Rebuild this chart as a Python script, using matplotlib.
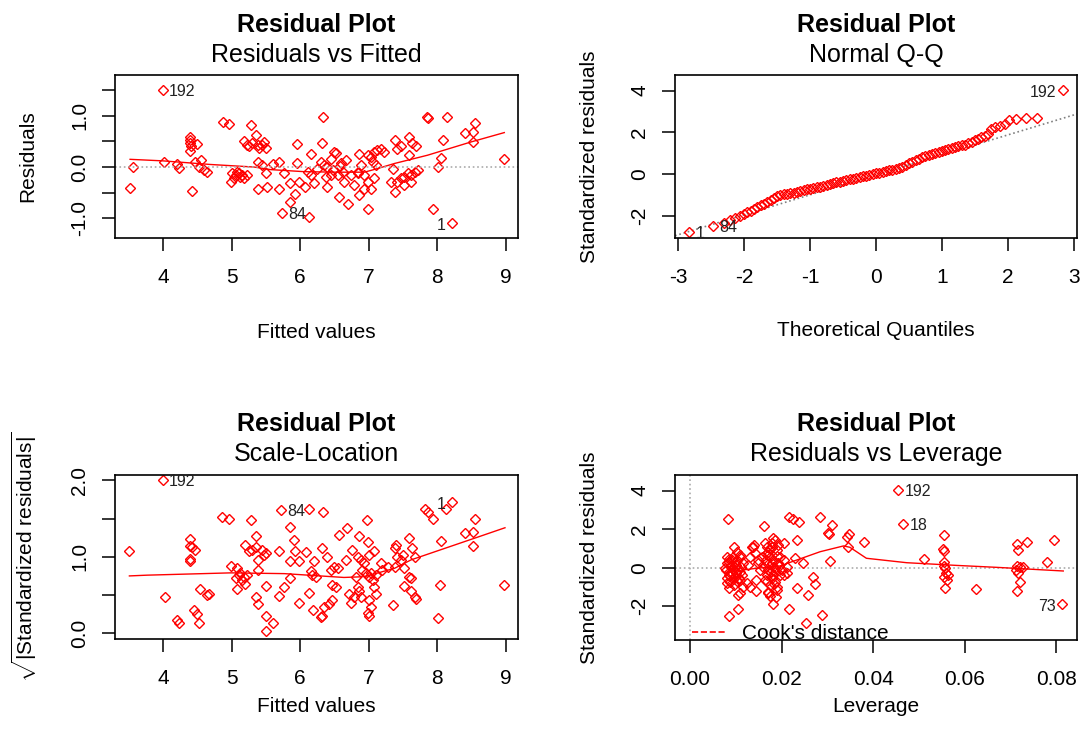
import numpy as np
import matplotlib
matplotlib.use("Agg")
import matplotlib.pyplot as plt
from matplotlib.lines import Line2D

plt.rcParams['font.family'] = ['Liberation Sans', 'DejaVu Sans']
plt.rcParams['mathtext.fontset'] = 'custom'
plt.rcParams['mathtext.rm'] = 'Liberation Sans'
plt.rcParams['mathtext.it'] = 'Liberation Sans:italic'
plt.rcParams['axes.unicode_minus'] = False

RED = '#ff0000'

# ---- Residuals vs Fitted ----
fit_x = [4.00, 3.52, 3.56, 4.02, 4.20, 4.24, 4.39, 4.40, 4.39, 4.41, 4.39, 4.49, 4.42,
         4.47, 4.55, 4.52, 4.64, 4.60, 4.87, 4.96,
         4.99, 5.01, 5.06, 5.11, 5.13, 5.16, 5.18, 5.23, 5.08, 5.03, 5.28,
         5.18, 5.23, 5.25, 5.30, 5.35, 5.38, 5.40, 5.45, 5.47, 5.50,
         5.38, 5.52, 5.50, 5.38, 5.45, 5.69, 5.69, 5.60, 5.77, 5.96,
         5.86, 5.93, 5.85, 5.99, 5.96, 6.07, 5.74, 6.13, 6.16, 6.11, 6.20, 6.16,
         6.34, 6.32, 6.50, 6.52, 6.67, 6.60, 6.40, 6.45, 6.35, 6.55, 6.64, 6.40, 6.57, 6.70,
         6.25, 6.30, 6.45, 6.48, 6.38, 6.58, 6.62,
         6.74, 6.79, 6.84, 6.86, 6.89, 6.94, 6.99, 6.86, 6.99, 7.03, 7.08, 6.94, 6.84,
         6.99, 7.03, 7.08, 7.13, 7.18, 7.23, 7.06, 7.11,
         7.38, 7.42, 7.47, 7.59, 7.64, 7.69, 7.59,
         7.35, 7.33, 7.38, 7.42, 7.47, 7.52, 7.57, 7.62, 7.67, 7.72, 7.52, 7.62,
         7.85, 7.86, 7.94, 8.01, 8.06, 8.08, 8.15, 8.21, 8.40, 8.52, 8.55, 8.52, 8.98]
fit_res = [1.50, -0.40, 0.00, 0.09, 0.05, -0.01, 0.59, 0.53, 0.46, 0.40, 0.31, 0.45, -0.47,
           0.09, 0.14, 0.00, -0.09, -0.06, 0.88, 0.83,
           -0.29, -0.12, -0.16, -0.12, -0.19, -0.16, -0.22, -0.16, -0.09, -0.22, 0.82,
           0.51, 0.43, 0.40, 0.46, 0.62, 0.43, 0.38, 0.43, 0.49, 0.38,
           -0.42, -0.38, -0.12, 0.09, 0.04, -0.42, 0.09, 0.05, -0.12, 0.44,
           -0.68, -0.52, -0.32, -0.29, 0.07, -0.38, -0.90, -0.97, 0.25, -0.09, -0.32, -0.16,
           0.98, 0.46, 0.29, 0.27, 0.14, 0.07, 0.01, -0.16, 0.04, -0.16, -0.29, -0.38, -0.58, -0.71,
           -0.03, 0.10, 0.15, -0.05, -0.20, 0.02, -0.10,
           -0.16, -0.35, -0.09, 0.25, 0.04, -0.16, -0.29, -0.55, -0.81, -0.42, -0.22, -0.42, -0.12,
           0.23, 0.20, 0.30, 0.33, 0.35, 0.29, 0.10, 0.04,
           0.53, 0.35, 0.40, 0.59, 0.46, 0.40, 0.23,
           -0.03, -0.29, -0.48, -0.29, -0.22, -0.19, -0.12, -0.16, -0.09, -0.06, -0.35, -0.29,
           0.98, 0.96, -0.81, 0.01, 0.17, 0.53, 0.97, -1.08, 0.66, 0.69, 0.85, 0.49, 0.16]
fit_smooth_x = [3.52, 4.00, 4.69, 5.33, 5.57, 6.06, 6.55, 6.94, 7.13, 7.38, 7.86, 8.50, 8.98]
fit_smooth_y = [0.15, 0.12, 0.05, 0.00, -0.05, -0.09, -0.10, -0.10, -0.03, 0.07, 0.23, 0.49, 0.67]
fit_labels = [("192", 4.00, 1.50, 'right'), ("84", 5.74, -0.90, 'right'), ("1", 8.21, -1.08, 'left')]

# ---- Normal Q-Q ----
qq_theo = [-2.83, -2.47, -2.30, -2.22, -2.14, -2.07, -2.00, -1.95, -1.90, -1.85, -1.80,
           -1.75, -1.70, -1.65, -1.60, -1.55, -1.50,
           -1.45, -1.40, -1.35, -1.30, -1.25, -1.20, -1.15, -1.10, -1.05, -1.00,
           -0.95, -0.90, -0.85, -0.80, -0.75, -0.70, -0.65, -0.60, -0.55, -0.50,
           -0.45, -0.40, -0.35, -0.30, -0.25, -0.20, -0.15, -0.10, -0.05, 0.00,
           0.05, 0.10, 0.15, 0.20, 0.25, 0.30, 0.35, 0.40, 0.45, 0.50,
           0.55, 0.60, 0.65, 0.70, 0.75, 0.80, 0.85, 0.90, 0.95, 1.00,
           1.05, 1.10, 1.15, 1.20, 1.25, 1.30, 1.35, 1.40, 1.45, 1.50,
           1.55, 1.60, 1.65, 1.70, 1.74, 1.81, 1.88, 1.95, 2.02, 2.12, 2.27, 2.44, 2.83]
qq_std = [-2.80, -2.48, -2.33, -2.22, -2.10, -2.02, -1.92, -1.84, -1.76, -1.66, -1.57,
          -1.50, -1.43, -1.34, -1.24, -1.13, -1.04,
          -1.00, -0.98, -0.95, -0.92, -0.89, -0.86, -0.82, -0.78, -0.74, -0.70,
          -0.67, -0.64, -0.60, -0.57, -0.53, -0.47, -0.44, -0.40, -0.37, -0.33,
          -0.29, -0.25, -0.22, -0.19, -0.15, -0.11, -0.08, -0.04, -0.01, 0.03,
          0.06, 0.10, 0.14, 0.17, 0.20, 0.23, 0.27, 0.33, 0.42, 0.52,
          0.60, 0.67, 0.74, 0.80, 0.86, 0.91, 0.96, 1.01, 1.06, 1.11,
          1.16, 1.22, 1.27, 1.31, 1.35, 1.38, 1.41, 1.49, 1.55, 1.62,
          1.70, 1.77, 1.84, 1.93, 2.15, 2.27, 2.31, 2.40, 2.59, 2.62, 2.67, 2.67, 4.03]
qq_line_x = [-3.05, 3.05]
qq_line_y = [-2.96, 2.88]
qq_labels = [("192", 2.83, 4.03, 'left'), ("84", -2.47, -2.48, 'right'), ("1", -2.83, -2.80, 'right')]

# ---- Scale-Location ----
sl_x = [4.00, 3.51, 4.03, 4.20, 4.24, 4.40, 4.40, 4.42, 4.47, 4.40, 4.40,
        4.45, 4.49, 4.52, 4.54, 4.64, 4.67, 4.86, 4.97,
        4.99, 5.08, 5.11, 5.13, 5.18, 5.16, 5.08, 5.20, 5.06, 5.23, 5.29,
        5.20, 5.25, 5.30, 5.35, 5.38, 5.45, 5.47, 5.50, 5.35,
        5.38, 5.35, 5.38, 5.50, 5.50, 5.60, 5.50,
        5.69, 5.85, 5.86, 5.91, 5.93, 5.99, 6.08, 5.86, 5.77, 5.69, 5.99, 5.72, 6.13, 6.34,
        6.16, 6.20, 6.23, 6.18, 6.13, 6.19, 6.31, 6.32, 6.35, 6.40, 6.32, 6.45, 6.50, 6.55,
        6.47, 6.52, 6.42, 6.47, 6.57, 6.69, 6.67,
        6.76, 6.84, 6.86, 6.89, 6.94, 6.99, 7.01, 6.98, 7.08,
        6.81, 6.84, 6.86, 6.89, 6.91, 6.96, 7.01, 7.03, 7.06, 7.08, 7.11, 7.01, 7.03, 6.99,
        7.01, 6.74, 6.72, 6.79, 7.11,
        7.18, 7.20, 7.28, 7.38, 7.42, 7.47, 7.52, 7.40, 7.38, 7.50, 7.59, 7.64, 7.67, 7.59,
        7.62, 7.52, 7.62, 7.67, 7.69, 7.35,
        7.82, 7.86, 7.94, 8.13, 8.21, 8.06, 8.04, 8.01, 8.40, 8.52, 8.55, 8.52, 8.98]
sl_y = [2.00, 1.08, 0.47, 0.17, 0.14, 1.23, 1.14, 1.13, 1.09, 0.97, 0.94,
        0.30, 0.25, 0.13, 0.58, 0.50, 0.52, 1.52, 1.49,
        0.88, 0.86, 0.76, 0.79, 0.74, 0.70, 0.58, 0.65, 0.72, 0.76, 1.48,
        1.16, 1.07, 1.09, 1.13, 0.96, 1.09, 1.03, 1.05, 1.27,
        0.83, 0.47, 0.38, 0.62, 0.23, 0.14, 0.03,
        1.08, 1.39, 0.94, 1.22, 1.07, 0.94, 1.06, 0.72, 0.61, 0.49, 0.40, 1.61, 1.62, 1.58,
        0.81, 0.94, 0.74, 0.76, 0.53, 0.30, 0.21, 0.23, 0.35, 1.00, 1.11, 0.83, 0.87, 0.85,
        0.63, 0.61, 0.38, 0.44, 1.29, 1.38, 0.96,
        1.09, 1.00, 1.27, 0.96, 0.92, 1.20, 1.03, 1.48, 1.07,
        0.74, 0.61, 0.55, 0.48, 0.83, 0.79, 0.74, 0.79, 0.70, 0.61, 0.52, 0.44, 0.35, 0.26,
        0.22, 0.39, 0.52, 0.48, 0.76,
        0.92, 0.83, 0.87, 0.87, 1.00, 0.96, 0.85, 1.16, 1.11, 1.03, 1.24, 1.11, 1.00, 0.74,
        0.72, 0.62, 0.55, 0.48, 0.45, 0.37,
        1.62, 1.59, 1.49, 1.62, 1.72, 1.21, 0.63, 0.20, 1.31, 1.33, 1.49, 1.14, 0.63]
sl_smooth_x = [3.51, 3.77, 4.99, 5.77, 6.64, 6.94, 7.38, 7.62, 8.11, 8.60, 8.99]
sl_smooth_y = [0.75, 0.76, 0.79, 0.78, 0.73, 0.74, 0.85, 0.96, 1.11, 1.26, 1.38]
sl_labels = [("192", 4.00, 2.00, 'right'), ("84", 5.72, 1.61, 'right'), ("1", 8.21, 1.72, 'left')]

# ---- Residuals vs Leverage ----
lev_h = [0.0081, 0.0084, 0.0087, 0.0079, 0.0091, 0.0081, 0.0087, 0.0095, 0.0084, 0.0102,
         0.0109, 0.0116, 0.0105, 0.0098, 0.0109, 0.0116, 0.0124, 0.0113, 0.0095, 0.0102,
         0.0109, 0.0098, 0.0091, 0.0086, 0.0105, 0.0109, 0.0127, 0.0131, 0.0135, 0.0138,
         0.0140, 0.0131, 0.0145, 0.0145, 0.0149, 0.0080, 0.0076, 0.0084, 0.0093, 0.0100,
         0.0090, 0.0095, 0.0100, 0.0088, 0.0093, 0.0103, 0.0110, 0.0085, 0.0097, 0.0112,
         0.0080, 0.0106,
         0.0164, 0.0167, 0.0171, 0.0175, 0.0166, 0.0178, 0.0182, 0.0171, 0.0167, 0.0178,
         0.0185, 0.0175, 0.0189, 0.0182, 0.0189, 0.0185, 0.0193, 0.0196, 0.0200, 0.0196,
         0.0204, 0.0156, 0.0160, 0.0171, 0.0153, 0.0182, 0.0178, 0.0171, 0.0193, 0.0185,
         0.0149, 0.0142, 0.0178, 0.0164, 0.0204, 0.0211, 0.0211, 0.0189, 0.0171,
         0.0170, 0.0176, 0.0181, 0.0186, 0.0168, 0.0190, 0.0174, 0.0183, 0.0195, 0.0165,
         0.0082, 0.0086, 0.0104, 0.0161, 0.0217, 0.0225, 0.0237, 0.0284, 0.0309, 0.0302,
         0.0303, 0.0342, 0.0348, 0.0345, 0.0380, 0.0233, 0.0205, 0.0229, 0.0247, 0.0305,
         0.0233, 0.0269, 0.0273, 0.0257, 0.0215, 0.0287, 0.0253, 0.0182, 0.0188, 0.0175,
         0.0455, 0.0465, 0.0511, 0.0624,
         0.0554, 0.0553, 0.0554, 0.0554, 0.0554, 0.0556, 0.0559, 0.0564, 0.0554, 0.0560, 0.0556,
         0.0713, 0.0716, 0.0735, 0.0715, 0.0720, 0.0727, 0.0711, 0.0716, 0.0720, 0.0715,
         0.0780, 0.0794, 0.0812]
lev_r = [0.57, 0.31, 0.09, -0.12, -0.29, -0.55, -0.73, -0.90, -1.07, 0.40,
         0.57, 0.23, -0.12, -0.47, -0.64, -0.99, -0.81, -0.38, 1.09, 0.83,
         0.66, 0.05, 0.40, -0.38, -1.42, -1.30, 0.14, 0.57, 1.09, 1.06,
         1.18, -0.99, -0.64, -1.21, 0.40, 0.23, -0.03, -0.21, 0.54, -0.29,
         0.10, -0.10, 0.15, -0.45, -0.60, -0.70, -0.20, 0.45, 0.30, 0.05,
         -0.80, -0.55,
         1.27, 1.09, 0.83, 0.57, 0.40, 0.23, 0.05, -0.12, -0.38, -0.55,
         -0.73, -0.90, -0.99, 0.40, 0.92, 1.44, 1.18, 0.57, -0.12, -0.38,
         -0.38, 0.57, 0.05, -1.25, -0.12, 1.53, 1.27, 0.66, 0.23, -0.21,
         0.23, 0.75, 1.09, -0.64, 0.40, -0.29, 0.05, -1.16, -1.33,
         0.20, -0.20, -0.40, 0.00, -0.70, 0.60, 0.95, -0.85, 0.10, 0.70,
         2.51, -2.51, -2.15, 2.18, 2.62, 2.51, 2.36, 2.62, 2.22, 1.82,
         1.75, 1.58, 1.75, 1.09, 1.35, 1.44, 1.30, 0.49, 0.23, 0.36,
         -1.04, -0.47, -0.85, -1.40, -2.15, -2.46, -2.89, -1.89, -1.54, -1.47,
         4.04, 2.27, 0.45, -1.13,
         1.70, 0.95, 0.88, 0.31, 0.09, -0.03, -0.29, -0.38, -0.50, -0.64, -1.07,
         1.23, 0.92, 1.35, 0.09, 0.02, 0.05, -0.12, -0.26, -0.73, -1.21,
         0.28, 1.44, -1.89]
lev_smooth_x = [0.0084, 0.0145, 0.0196, 0.0233, 0.0284, 0.0335, 0.0349, 0.0385, 0.0473, 0.0582, 0.0669, 0.0815]
lev_smooth_y = [-0.21, -0.03, 0.09, 0.40, 0.83, 1.13, 1.06, 0.49, 0.26, 0.12, 0.02, -0.17]
lev_labels = [("192", 0.0455, 4.04, 'right'), ("18", 0.0465, 2.27, 'right'), ("73", 0.0812, -1.89, 'left')]

W, H = 1081, 746
fig = plt.figure(figsize=(W / 100, H / 100), dpi=100)


def make_ax(l, t, r, b):
    return fig.add_axes([l / W, 1 - b / H, (r - l) / W, (b - t) / H])


ax1 = make_ax(115, 75, 518, 238)
ax2 = make_ax(675, 75, 1077, 238)
ax3 = make_ax(115, 475, 518, 639)
ax4 = make_ax(675, 475, 1077, 640)

FS = 15


def style(ax):
    for s in ax.spines.values():
        s.set_linewidth(1.2)
    ax.tick_params(direction='out', length=9.5, width=1.1, labelsize=FS)
    ax.tick_params(axis='x', pad=12)
    ax.tick_params(axis='y', pad=9)
    for lab in ax.get_yticklabels():
        lab.set_rotation(90)
        lab.set_va('center')


def pts(ax, x, y):
    ax.plot(x, y, linestyle='none', marker='D', markersize=4.7, markerfacecolor='none',
            markeredgecolor=RED, markeredgewidth=1.0)


def ids(ax, labels):
    for txt, x, y, side in labels:
        if side == 'right':
            ax.annotate(txt, (x, y), xytext=(4.5, -1), textcoords='offset points',
                        ha='left', va='center', fontsize=11.5, color='#222222')
        else:
            ax.annotate(txt, (x, y), xytext=(-4.5, -2), textcoords='offset points',
                        ha='right', va='center', fontsize=11.5, color='#222222')


def titles(ax, sub, ytop):
    pos = ax.get_position()
    cx = (pos.x0 + pos.x1) / 2
    fig.text(cx, 1 - ytop / H, "Residual Plot", ha='center', va='center',
             fontsize=18, fontweight='bold')
    fig.text(cx, 1 - (ytop + 30) / H, sub, ha='center', va='center', fontsize=18)


# panel 1
pts(ax1, fit_x, fit_res)
ax1.plot(fit_smooth_x, fit_smooth_y, color=RED, lw=1)
ax1.axhline(0, color='#aaaaaa', ls=':', lw=1.2)
ids(ax1, fit_labels)
ax1.set_xlim(3.30, 9.18)
ax1.set_ylim(-1.38, 1.79)
ax1.set_xticks([4, 5, 6, 7, 8, 9])
ax1.set_yticks([-1.0, -0.5, 0.0, 0.5, 1.0, 1.5])
ax1.set_yticklabels(['-1.0', '', '0.0', '', '1.0', ''])
ax1.set_xlabel("Fitted values", fontsize=FS, va='center')
ax1.set_ylabel("Residuals", fontsize=FS, va='center')
ax1.xaxis.set_label_coords(0.5, (238 - 332) / 163)
ax1.yaxis.set_label_coords((28 - 115) / 403, 0.5)
style(ax1)
titles(ax1, "Residuals vs Fitted", 25)

# panel 2
ax2.plot(qq_line_x, qq_line_y, color='#808080', ls=':', lw=1.2)
pts(ax2, qq_theo, qq_std)
ids(ax2, qq_labels)
ax2.set_xlim(-3.05, 3.05)
ax2.set_ylim(-3.07, 4.75)
ax2.set_xticks([-3, -2, -1, 0, 1, 2, 3])
ax2.set_yticks([-2, 0, 2, 4])
ax2.set_xlabel("Theoretical Quantiles", fontsize=FS, va='center')
ax2.set_ylabel("Standardized residuals", fontsize=FS, va='center')
ax2.xaxis.set_label_coords(0.5, (238 - 331) / 163)
ax2.yaxis.set_label_coords((590 - 675) / 402, 0.5)
style(ax2)
titles(ax2, "Normal Q-Q", 25)

# panel 3
pts(ax3, sl_x, sl_y)
ax3.plot(sl_smooth_x, sl_smooth_y, color=RED, lw=1)
ids(ax3, sl_labels)
ax3.set_xlim(3.30, 9.18)
ax3.set_ylim(-0.075, 2.07)
ax3.set_xticks([4, 5, 6, 7, 8, 9])
ax3.set_yticks([0.0, 0.5, 1.0, 1.5, 2.0])
ax3.set_yticklabels(['0.0', '', '1.0', '', '2.0'])
ax3.set_xlabel("Fitted values", fontsize=FS, va='center')
ax3.set_ylabel(r"$\sqrt{|\mathrm{Standardized\ residuals}|}$", fontsize=FS, va='center')
ax3.xaxis.set_label_coords(0.5, (639 - 706) / 164)
ax3.yaxis.set_label_coords((24 - 115) / 403, 0.5)
style(ax3)
titles(ax3, "Scale-Location", 424)

# panel 4
ax4.axhline(0, color='#aaaaaa', ls=':', lw=1.2)
ax4.axvline(0, color='#aaaaaa', ls=':', lw=1.2)
pts(ax4, lev_h, lev_r)
ax4.plot(lev_smooth_x, lev_smooth_y, color=RED, lw=1)
ids(ax4, lev_labels)
ax4.set_xlim(-0.0033, 0.0845)
ax4.set_ylim(-3.75, 4.81)
ax4.set_xticks([0.00, 0.02, 0.04, 0.06, 0.08])
ax4.set_xticklabels(['0.00', '0.02', '0.04', '0.06', '0.08'])
ax4.set_yticks([-2, 0, 2, 4])
ax4.set_xlabel("Leverage", fontsize=FS, va='center')
ax4.set_ylabel("Standardized residuals", fontsize=FS, va='center')
ax4.xaxis.set_label_coords(0.5, (640 - 706) / 165)
ax4.yaxis.set_label_coords((590 - 675) / 402, 0.5)
ax4.legend([Line2D([], [], color=RED, ls='--', lw=1.2)], ["Cook's distance"],
           loc='lower left', bbox_to_anchor=(0.042, -0.02), frameon=False, fontsize=FS,
           handlelength=1.6, handletextpad=0.8, borderaxespad=0.0, borderpad=0.0)
style(ax4)
titles(ax4, "Residuals vs Leverage", 424)

fig.savefig("out.png", dpi=100)
